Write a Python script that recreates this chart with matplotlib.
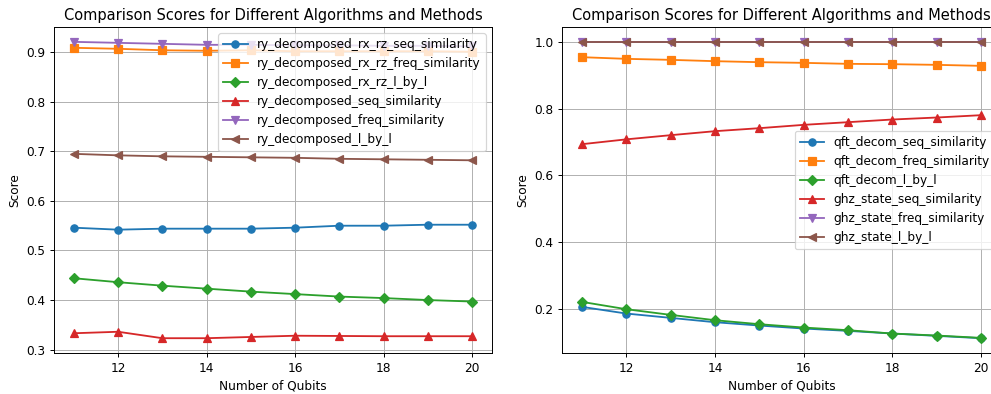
# comparison scores vs number of qubits, two panels

import numpy as np
import matplotlib
matplotlib.use('Agg')
from matplotlib import pyplot as plt

qubits = [11, 12, 13, 14, 15, 16, 17, 18, 19, 20]

# left panel
ry_rx_rz_seq  = [0.546, 0.542, 0.544, 0.544, 0.544, 0.546, 0.550, 0.550, 0.552, 0.552]
ry_rx_rz_freq = [0.909, 0.907, 0.904, 0.903, 0.904, 0.902, 0.902, 0.902, 0.902, 0.901]
ry_rx_rz_lbyl = [0.444, 0.436, 0.429, 0.423, 0.417, 0.412, 0.407, 0.404, 0.400, 0.397]
ry_seq        = [0.333, 0.336, 0.323, 0.323, 0.3255, 0.328, 0.3275, 0.327, 0.327, 0.327]
ry_freq       = [0.921, 0.919, 0.917, 0.915, 0.915, 0.914, 0.914, 0.913, 0.913, 0.912]
ry_lbyl       = [0.695, 0.692, 0.690, 0.689, 0.688, 0.687, 0.685, 0.684, 0.683, 0.682]

# right panel
qft_seq   = [0.205, 0.185, 0.172, 0.159, 0.149, 0.140, 0.133, 0.125, 0.118, 0.111]
qft_freq  = [0.954, 0.949, 0.946, 0.942, 0.939, 0.937, 0.934, 0.933, 0.931, 0.928]
qft_lbyl  = [0.220, 0.198, 0.181, 0.165, 0.153, 0.143, 0.135, 0.125, 0.119, 0.112]
ghz_seq   = [0.693, 0.7075, 0.720, 0.732, 0.741, 0.751, 0.759, 0.767, 0.773, 0.780]
ghz_freq  = [1.0] * 10
ghz_lbyl  = [1.0] * 10

markers = ['o', 's', 'D', '^', 'v', '<']

left_series = [
    ('ry_decomposed_rx_rz_seq_similarity', ry_rx_rz_seq),
    ('ry_decomposed_rx_rz_freq_similarity', ry_rx_rz_freq),
    ('ry_decomposed_rx_rz_l_by_l', ry_rx_rz_lbyl),
    ('ry_decomposed_seq_similarity', ry_seq),
    ('ry_decomposed_freq_similarity', ry_freq),
    ('ry_decomposed_l_by_l', ry_lbyl),
]
right_series = [
    ('qft_decom_seq_similarity', qft_seq),
    ('qft_decom_freq_similarity', qft_freq),
    ('qft_decom_l_by_l', qft_lbyl),
    ('ghz_state_seq_similarity', ghz_seq),
    ('ghz_state_freq_similarity', ghz_freq),
    ('ghz_state_l_by_l', ghz_lbyl),
]

# reference looks like a bigger figure scaled down, so use a lower dpi
dpi = 87.5
fig = plt.figure(figsize=(992 / dpi, 394 / dpi), dpi=dpi)
ax1 = fig.add_axes([0.0544, 0.104, 0.4415, 0.8274])
ax2 = fig.add_axes([0.5665, 0.104, 0.4425, 0.8274])

for ax, series, loc in [(ax1, left_series, 'upper right'), (ax2, right_series, 'center right')]:
    for (name, vals), m in zip(series, markers):
        ax.plot(qubits, vals, marker=m, label=name)
    ax.set_title('Comparison Scores for Different Algorithms and Methods', size=12)
    ax.set_xlabel('Number of Qubits')
    ax.set_ylabel('Score')
    ax.grid(True)
    ax.legend(loc=loc)

fig.savefig('out.png', dpi=dpi)
